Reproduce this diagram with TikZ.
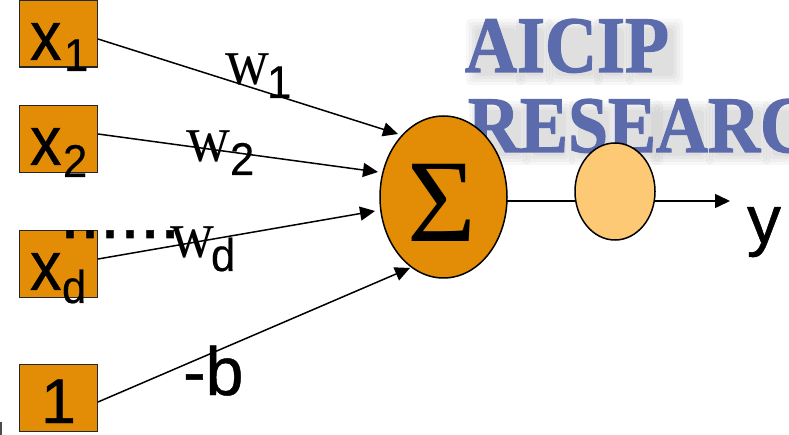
\documentclass[tikz,border=0pt]{standalone}
\usepackage{fontspec}
\setmainfont{Liberation Sans}
\newfontfamily\serifx{Liberation Serif}
\newfontfamily\logofont[BoldFeatures={FakeBold=1.6}]{Liberation Serif}
\newfontfamily\fatsans[FakeBold=0.7]{Liberation Sans}
\newfontfamily\fatsub[FakeBold=0.4]{Liberation Sans}
\usetikzlibrary{arrows.meta}
\definecolor{boxorange}{HTML}{E38D06}
\definecolor{lightorange}{HTML}{FDC975}
\definecolor{logoblue}{HTML}{5B6BAB}
\newcommand{\fs}[1]{\fontsize{#1}{#1}\selectfont}
\tikzset{
  inbox/.style={draw=black!85,line width=1.4pt,fill=boxorange,minimum width=78pt,minimum height=67pt,inner sep=0pt,anchor=center},
  lab/.style={inner sep=0pt,outer sep=0pt,anchor=base west,text=black},
  big/.style={lab,font=\fatsans\fs{70},xscale=0.9},
  weight/.style={lab,font=\serifx\fs{61},yscale=1.1},
  sub/.style={lab,font=\fatsub\fs{46},xscale=0.95},
  conn/.style={line width=1.5pt,draw=black},
  arrow/.style={conn,-{Stealth[length=15pt,width=14pt,inset=0pt]}},
  logotext/.style={inner sep=0pt,outer sep=0pt,anchor=base west,font=\logofont\bfseries\fs{80},text=logoblue,xscale=0.9},
  logoshade/.style={fill=black,opacity=0.03,rounded corners=4pt},
}
\begin{document}
\begin{tikzpicture}[x=1pt,y=-1pt]
\path[use as bounding box,fill=white] (0,0) rectangle (789,435);
\begin{scope}
\clip (0,0) rectangle (789,435);
% soft logo shadow, letter by letter
\foreach \xa/\xb/\ya/\yb in {465/512/18/72,515/540/18/72,545/590/18/72,593/620/18/72,625/670/18/72,
  468/517/100/152,522/562/100/152,568/605/100/152,612/650/100/152,650/700/100/152,705/757/100/152,762/800/100/152}{
  \foreach \g in {-3,0,3,6}{
    \path[logoshade] (\xa+7-\g,\ya+7-\g) rectangle (\xb+7+\g,\yb+7+\g);
  }
}
\node[logotext] (logoa) at (465,72) {AICIP};
\node[logotext] (logob) at (468,152) {RESEARC};
% boxes
\node[inbox] (x1) at (58.5,33.5) {};
\node[inbox] (x2) at (58.5,139) {};
\node[inbox] (xd) at (58.5,264) {};
\node[inbox] (one) at (58.5,398) {};
\path[fill=black!70] (0,422) rectangle (2,435);
% ellipses
\path[draw=black,line width=1.5pt,fill=boxorange] (443.5,197) ellipse [x radius=63.5,y radius=81];
\node[minimum width=127pt,minimum height=162pt,inner sep=0pt] (sum) at (443.5,197) {};
\path[draw=black,line width=1.5pt,fill=lightorange] (615,191.5) ellipse [x radius=40,y radius=48.5];
\node[minimum width=80pt,minimum height=97pt,inner sep=0pt] (act) at (615,191.5) {};
\node[lab,font=\serifx\fs{118}] (sigma) at (407.5,242) {Σ};
% connectors
\coordinate (s1) at (398,134);
\coordinate (s2) at (378,172);
\coordinate (s3) at (375,211);
\coordinate (s4) at (410,268);
\coordinate (a1) at (507,201);
\coordinate (a2) at (575,201);
\coordinate (o1) at (655,201);
\coordinate (o2) at (730,201);
\coordinate (xe1) at (98,39);
\coordinate (xe2) at (98,134);
\coordinate (xe3) at (98,259);
\coordinate (xe4) at (98,402);
\draw[arrow] (xe1) -- (s1);
\draw[arrow] (xe2) -- (s2);
\draw[arrow] (xe3) -- (s3);
\draw[arrow] (xe4) -- (s4);
\draw[conn] (a1) -- (a2);
\draw[arrow] (o1) -- (o2);
% labels
\node[big] (tx1) at (30,60) {x};
\node[sub] (t1) at (64,71) {1};
\node[big] (tx2) at (30,165) {x};
\node[sub] (t2) at (63,177) {2};
\node[big] (txd) at (30,290) {x};
\node[sub] (td) at (62,303) {d};
\node[lab,font=\fatsans\fs{63}] (tone) at (41,423) {1};
\node[lab,font=\fatsans\fs{72}] (dots) at (60,238) {......};
\node[weight] (w1) at (225,85) {w};
\node[sub] (w1s) at (267,98) {1};
\node[weight] (w2) at (186,162) {w};
\node[sub] (w2s) at (230,175) {2};
\node[weight] (wd) at (170,258) {w};
\node[sub] (wds) at (211,271) {d};
\node[lab,font=\fatsans\fs{68}] (mb) at (183,395) {-b};
\node[lab,font=\fatsans\fs{68}] (y) at (747,243) {y};
\end{scope}
\end{tikzpicture}
\end{document}
